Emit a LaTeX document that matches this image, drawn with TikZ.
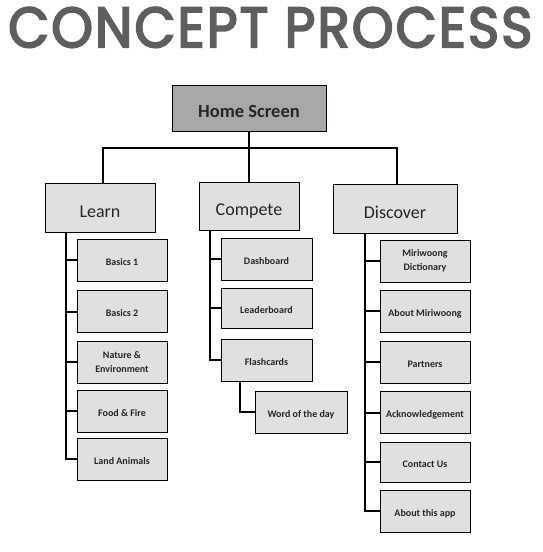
\documentclass[tikz,border=0pt]{standalone}
\usepackage{fontspec}
\setmainfont{Carlito}
\newfontfamily\titlefont[FakeBold=3.5, LetterSpace=4]{Poppins}
\usetikzlibrary{calc}
\definecolor{homegray}{HTML}{A6A8A6}
\definecolor{boxgray}{HTML}{E0E0E2}
\definecolor{titlegray}{HTML}{5E5E5E}
\tikzset{
  homebox/.style={draw=black, line width=1pt, fill=homegray, inner sep=0pt, text height=19pt, text depth=0pt, font=\bfseries\fontsize{18.5}{20}\selectfont, text=black!85},
  mainbox/.style={draw=black, line width=1pt, fill=boxgray, inner sep=0pt, text height=19pt, text depth=0pt, font=\fontsize{18}{20}\selectfont, text=black!85},
  subbox/.style={draw=black, line width=1pt, fill=boxgray, inner sep=0pt, minimum width=90pt, minimum height=42pt, align=center, font=\bfseries\fontsize{10}{14}\selectfont, text=black!85},
  oneline/.style={text height=10.4pt, text depth=0pt},
  link/.style={draw=black, line width=2pt, line join=miter}
}
\begin{document}
\begin{tikzpicture}[x=1pt,y=-1pt]
\useasboundingbox (0,0) rectangle (543,552);
\fill[white] (0,0) rectangle (543,552);
% title
\node[anchor=north west, inner sep=0pt, text=titlegray] (title) at (8,7) {\resizebox{524pt}{40pt}{\titlefont CONCEPT PROCESS}};
% main boxes
\node[homebox, minimum width=154pt, minimum height=46pt] (home) at (249,108) {Home Screen};
\node[mainbox, minimum width=110pt, minimum height=49pt] (learn) at (100,207.5) {Learn};
\node[mainbox, minimum width=100pt, minimum height=48pt] (compete) at (249,206) {Compete};
\node[mainbox, minimum width=124pt, minimum height=49pt] (discover) at (395,208.5) {Discover};
% learn children
\node[subbox, oneline] (l1) at (122,260) {Basics 1};
\node[subbox, oneline] (l2) at (122,311.5) {Basics 2};
\node[subbox] (l3) at (122,362) {Nature \&\\Environment};
\node[subbox, oneline] (l4) at (122,411) {Food \& Fire};
\node[subbox, oneline] (l5) at (122,459) {Land Animals};
% compete children
\node[subbox, oneline, minimum width=91pt] (c1) at (266.5,259) {Dashboard};
\node[subbox, oneline, minimum width=91pt, minimum height=40pt] (c2) at (266.5,308) {Leaderboard};
\node[subbox, oneline, minimum width=91pt] (c3) at (266.5,360) {Flashcards};
\node[subbox, oneline, minimum width=92pt] (c4) at (301,412) {Word of the day};
% discover children
\node[subbox] (d1) at (425,261) {Miriwoong\\Dictionary};
\node[subbox, oneline] (d2) at (425,311) {About Miriwoong};
\node[subbox, oneline] (d3) at (425,362) {Partners};
\node[subbox, oneline] (d4) at (425,412.5) {Acknowledgement};
\node[subbox, oneline, minimum height=40pt] (d5) at (425,462) {Contact Us};
\node[subbox, oneline] (d6) at (425,511) {About this app};
% top connectors
\coordinate (bus) at (249,148);
\draw[link] (home.south) -- (compete.north);
\draw[link] ([xshift=3pt]learn.north) |- (bus) -| ([xshift=2pt]discover.north);
% learn trunk
\coordinate (lt) at (66,232);
\draw[link] (lt) |- (l5.west);
\foreach \n in {l1,l2,l3,l4} \draw[link] (\n.west) -- (\n.west -| lt);
% compete trunk
\coordinate (ct) at (209.5,230);
\draw[link] (ct) |- (c3.west);
\foreach \n in {c1,c2} \draw[link] (\n.west) -- (\n.west -| ct);
\coordinate (ft) at (240,381);
\draw[link] (ft) |- (c4.west);
% discover trunk
\coordinate (dt) at (365,233);
\draw[link] (dt) |- (d6.west);
\foreach \n in {d1,d2,d3,d4,d5} \draw[link] (\n.west) -- (\n.west -| dt);
\end{tikzpicture}
\end{document}
